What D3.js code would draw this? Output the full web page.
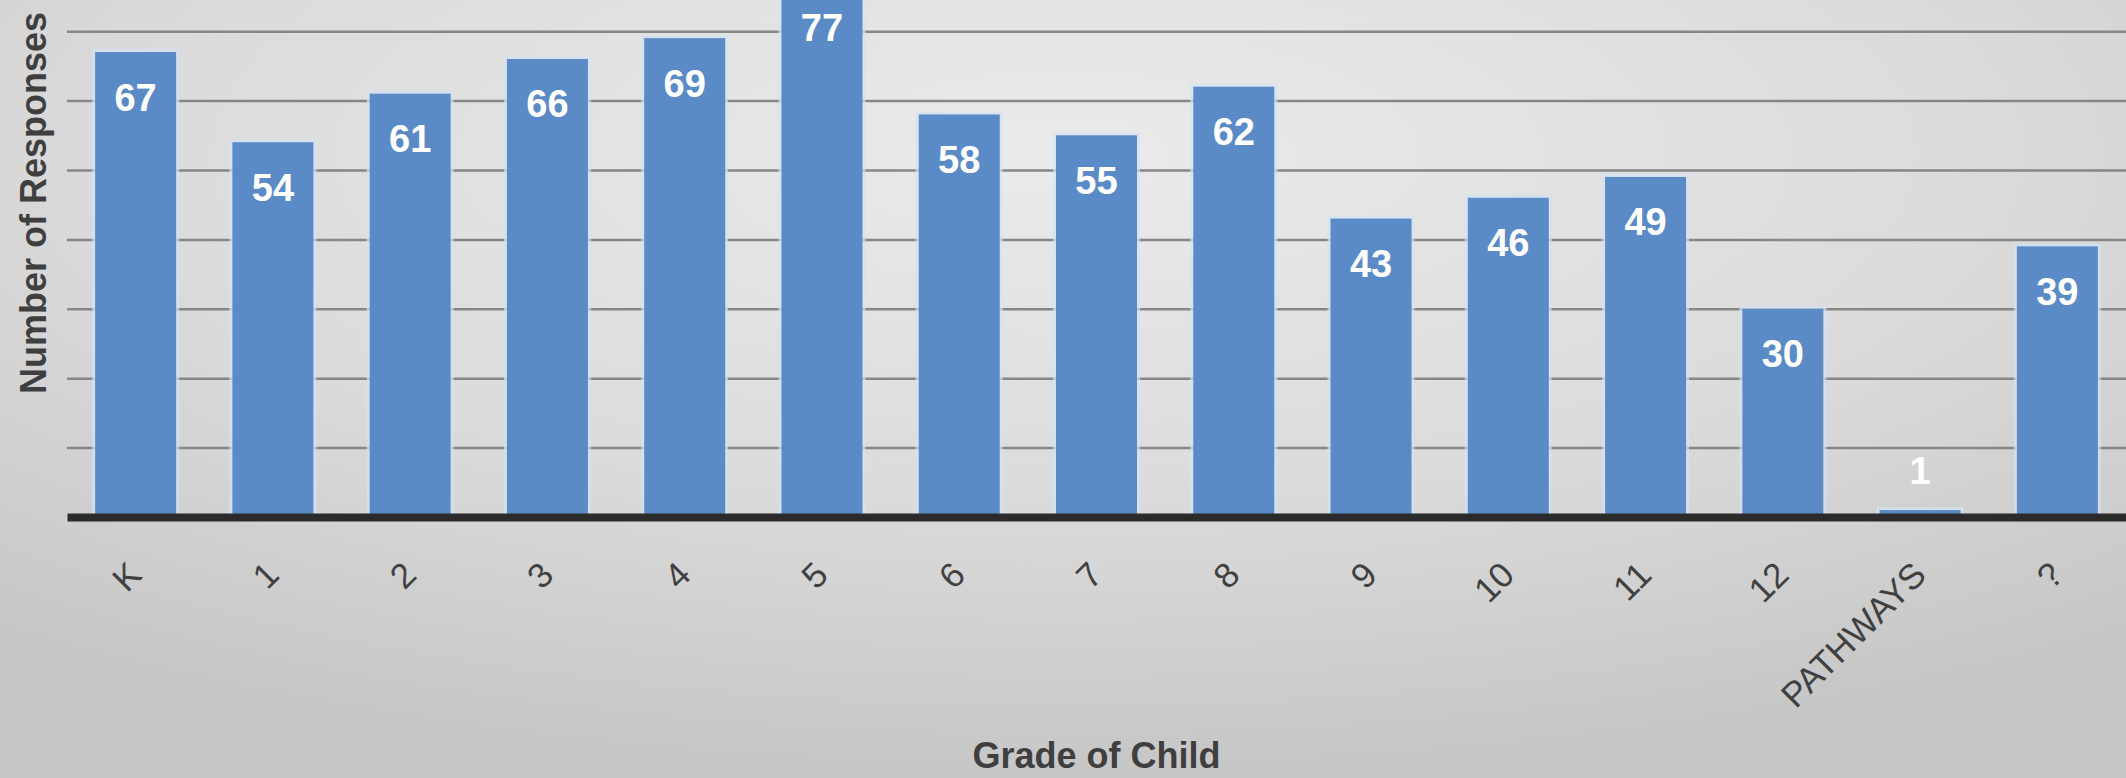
<!DOCTYPE html>
<html>
<head>
<meta charset="utf-8">
<script src="https://cdn.jsdelivr.net/npm/d3@7"></script>
<style>
  html, body { margin: 0; padding: 0; overflow: hidden; }
  svg { display: block; }
</style>
</head>
<body>
<svg id="chart" width="2126" height="778"></svg>
<script>
const categories = ["K", "1", "2", "3", "4", "5", "6", "7", "8", "9", "10", "11", "12", "PATHWAYS", "?"];
const values = [67, 54, 61, 66, 69, 77, 58, 55, 62, 43, 46, 49, 30, 1, 39];
const gridTicks = [10, 20, 30, 40, 50, 60, 70];
const xTitle = "Grade of Child";
const yTitle = "Number of Responses";

const W = 2126, H = 778;
const svg = d3.select("#chart");

// background
const defs = svg.append("defs");
const grad = defs.append("radialGradient").attr("id", "bg")
  .attr("cx", "50%").attr("cy", "20%").attr("r", "80%")
  .attr("fx", "50%").attr("fy", "20%");
grad.append("stop").attr("offset", "0%").attr("stop-color", "#ebebeb");
grad.append("stop").attr("offset", "55%").attr("stop-color", "#dbdbdb");
grad.append("stop").attr("offset", "100%").attr("stop-color", "#c6c6c6");
svg.append("rect").attr("width", W).attr("height", H).attr("fill", "url(#bg)");

const x = d3.scaleBand().domain(categories).range([67, 2126]).paddingInner(0.41).paddingOuter(0.205);
const y = d3.scaleLinear().domain([0, 70]).range([517, 31.2]);

// gridlines
const yAxis = d3.axisLeft(y).tickValues(gridTicks).tickSize(-(2126 - 67)).tickFormat("");
const gy = svg.append("g").attr("transform", "translate(67,0)").call(yAxis);
gy.select(".domain").remove();
gy.selectAll(".tick line").attr("stroke", "#868686").attr("stroke-width", 2.5);

// bar halos
svg.append("g").selectAll("rect").data(values).join("rect")
  .attr("x", (d, i) => x(categories[i]) - 3)
  .attr("y", d => y(d) - 3)
  .attr("width", x.bandwidth() + 6)
  .attr("height", d => y(0) - y(d) + 3)
  .attr("fill", "#d3e3f4")
  .attr("opacity", 0.7);

// bars
svg.append("g").selectAll("rect").data(values).join("rect")
  .attr("x", (d, i) => x(categories[i]))
  .attr("y", d => y(d))
  .attr("width", x.bandwidth())
  .attr("height", d => y(0) - y(d))
  .attr("fill", "#5b8bc7");

// x axis line
const xAxis = d3.axisBottom(x).tickSize(0).tickFormat("");
const gx = svg.append("g").attr("transform", `translate(0,${y(0)})`).call(xAxis);
gx.select(".domain").attr("stroke", "#2b2b2b").attr("stroke-width", 8);

// tick labels (rotated)
svg.append("g").selectAll("text").data(categories).join("text")
  .attr("transform", d => `translate(${x(d) + x.bandwidth() / 2 + 8},577) rotate(-45)`)
  .attr("text-anchor", "end")
  .attr("font-family", "'Liberation Sans', Arial, sans-serif")
  .attr("font-size", 35)
  .attr("fill", "#404040")
  .text(d => d);

// value labels
svg.append("g").selectAll("text").data(values).join("text")
  .attr("x", (d, i) => x(categories[i]) + x.bandwidth() / 2)
  .attr("y", d => Math.min(y(d) + 45, y(0) - 47) + 13.5)
  .attr("text-anchor", "middle")
  .attr("font-family", "'Liberation Sans', Arial, sans-serif")
  .attr("font-weight", "bold")
  .attr("font-size", 38)
  .attr("fill", "#ffffff")
  .text(d => d);

// axis titles
svg.append("text")
  .attr("x", (67 + 2126) / 2).attr("y", 768)
  .attr("text-anchor", "middle")
  .attr("font-family", "'Liberation Sans', Arial, sans-serif")
  .attr("font-weight", "bold").attr("font-size", 36)
  .attr("fill", "#3f3f3f")
  .text(xTitle);

svg.append("text")
  .attr("transform", "translate(46,203) rotate(-90)")
  .attr("text-anchor", "middle")
  .attr("font-family", "'Liberation Sans', Arial, sans-serif")
  .attr("font-weight", "bold").attr("font-size", 36)
  .attr("fill", "#3f3f3f")
  .text(yTitle);
</script>
</body>
</html>
